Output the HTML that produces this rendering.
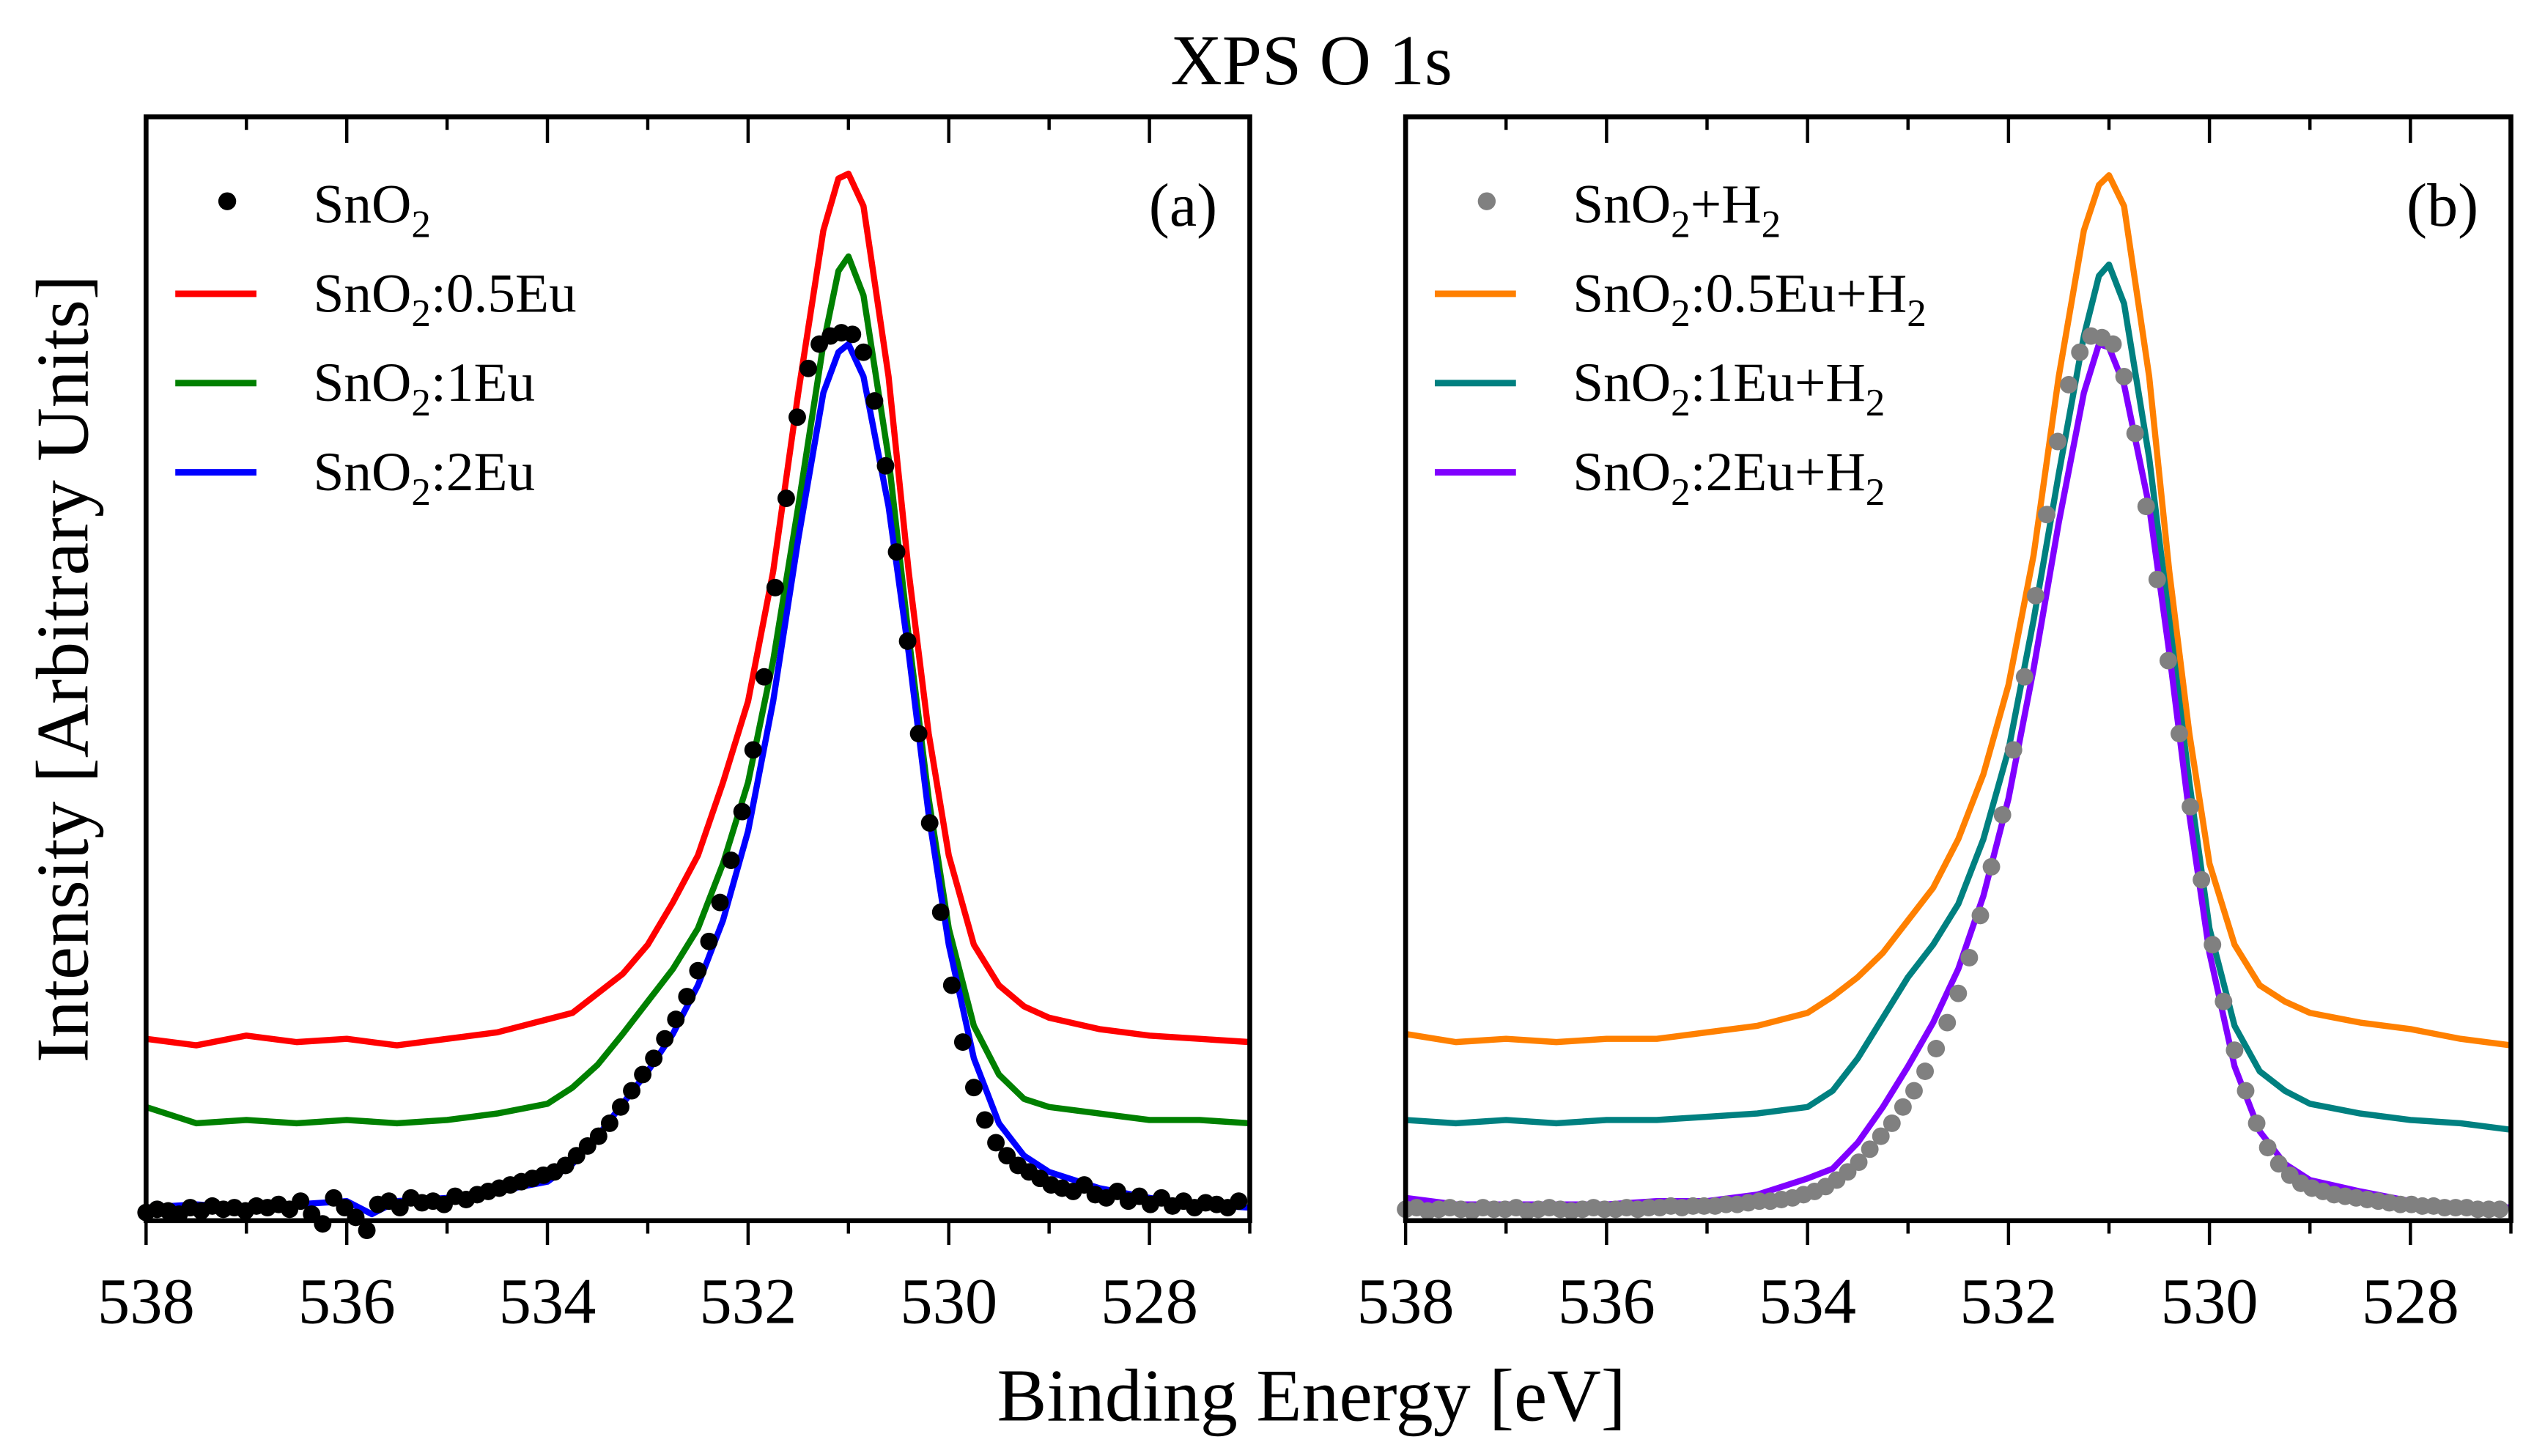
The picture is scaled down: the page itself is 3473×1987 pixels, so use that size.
<!DOCTYPE html>
<html><head><meta charset="utf-8"><style>
html,body{margin:0;padding:0;background:#fff;}
svg{display:block;font-family:"Liberation Serif",serif;}
</style></head><body>
<svg id="chart" width="3473" height="1987" viewBox="0 0 1568 897" preserveAspectRatio="none" xmlns="http://www.w3.org/2000/svg">
<text x="808" y="52" font-size="44" text-anchor="middle">XPS O 1s</text>
<text x="808" y="875" font-size="46" text-anchor="middle">Binding Energy [eV]</text>
<text transform="translate(54,412) rotate(-90)" font-size="46" text-anchor="middle">Intensity [Arbitrary Units]</text>
<g id="panelA"></g>
<g id="panelB"></g>
</svg>
<script>
const xTicks = [538, 536, 534, 532, 530, 528];
const xMinorTicks = [537, 535, 533, 531, 529, 527];

const energyLinesA = [538,537.5,537,536.5,536,535.5,535,534.5,534,533.75,533.5,533.25,533,532.75,532.5,532.25,532,531.75,531.5,531.25,531.1,531,530.85,530.6,530.4,530.2,530,529.75,529.5,529.25,529,528.5,528,527.5,527];
const redA = [112,108,114,110,112,108,112,116,124,128,140,152,170,196,225,270,320,400,510,610,642,645,625,520,400,300,225,170,145,132,125,118,114,112,110];
const greenA = [70,60,62,60,62,60,62,66,72,82,96,115,135,155,180,220,270,345,440,540,585,594,570,470,360,260,180,120,90,75,70,66,62,62,60];
const energyBlueA = [538,537.5,537,536.5,536,535.75,535.5,535,534.5,534,533.75,533.5,533.25,533,532.75,532.5,532.25,532,531.75,531.5,531.25,531.1,531,530.85,530.6,530.4,530.2,530,529.75,529.5,529.25,529,528.5,528,527.5,527];
const blueA = [8,10,8,10,12,4,12,14,18,24,35,52,72,92,115,145,185,240,320,420,510,535,540,520,440,350,250,170,100,60,40,30,20,14,10,8];
const blackDots = [5,7,6,4,8,6,9,7,8,6,9,8,10,7,12,4,-2,14,8,2,-6,10,12,8,14,11,12,10,15,
 13,16,18,20,22,24,26,28,30,
 34,40,46,52,60,70,80,90,100,
 112,124,138,154,172,196,222,252,290,
 335,390,445,495,525,540,545,547,546,
 535,505,465,412,357,300,245,190,145,
 110,82,62,48,40,34,30,26,22,
 20,18,22,16,14,18,12,15,10,14,9,12,8,11,10,8,12];

const energyLinesB = [538,537.5,537,536.5,536,535.5,535,534.5,534,533.75,533.5,533.25,533,532.75,532.5,532.25,532,531.75,531.5,531.25,531.1,531,530.85,530.6,530.4,530.2,530,529.75,529.5,529.25,529,528.5,528,527.5,527];
const orangeB = [115,110,112,110,112,112,116,120,128,138,150,165,185,205,235,275,330,410,520,610,638,644,625,520,400,300,220,170,145,135,128,122,118,112,108];
const tealB = [62,60,62,60,62,62,64,66,70,80,100,125,150,170,195,235,290,370,460,545,582,589,565,470,370,270,180,120,92,80,72,66,62,60,56];
const purpleB = [14,10,10,10,10,12,12,16,26,32,48,70,95,122,155,200,260,340,430,510,540,538,515,440,350,250,165,95,55,35,25,18,12,10,8];
const grayDots = [7,8,6,7,8,7,6,8,7,7,8,6,7,8,7,6,7,8,7,7,8,7,8,8,9,8,9,9,
 9,10,10,11,12,12,13,14,16,
 18,21,25,30,36,44,52,60,70,
 80,92,106,122,140,162,188,218,250,
 290,335,385,435,480,515,535,545,544,
 540,520,485,440,395,345,300,255,210,
 170,135,105,80,60,45,35,28,23,
 20,18,16,15,14,13,12,11,10,10,9,9,8,8,8,7,7,7];
const dotEnergyStart = 538, dotEnergyStep = 0.11;

const NS = "http://www.w3.org/2000/svg";
function mk(tag, attrs, parent){ const e=document.createElementNS(NS,tag); for(const k in attrs) e.setAttribute(k,attrs[k]); parent.appendChild(e); return e; }

function drawPanel(g, left, right, lines, dots, dotColor, legend, label){
  const top=72, bottom=752;
  const xS = e => left + (538 - e) * (right-left)/11;
  const yS = v => bottom - v * (bottom-top)/680;
  lines.forEach(s=>{
    const pts = s.e.map((e,i)=>xS(e).toFixed(2)+","+yS(s.v[i]).toFixed(2)).join(" ");
    const p = mk("polyline",{points:pts,fill:"none",stroke:s.color,"stroke-width":3.8,"stroke-linejoin":"round"},g);
    
    
  });
  dots.forEach((v,i)=>{
    const c = mk("circle",{cx:xS(dotEnergyStart - i*dotEnergyStep),cy:yS(v),r:5.4,fill:dotColor},g);
    
    
  });
  const f = mk("rect",{x:left,y:top,width:right-left,height:bottom-top,fill:"none",stroke:"#000","stroke-width":3},g);
  
  
  xTicks.forEach(t=>{
    const x=xS(t);
    const a = mk("line",{x1:x,y1:bottom,x2:x,y2:bottom+15,stroke:"#000","stroke-width":2},g);
    
    
    const b = mk("line",{x1:x,y1:top,x2:x,y2:top+16,stroke:"#000","stroke-width":2},g);
    
    
    const tx = mk("text",{x:x,y:815,"font-size":40,"text-anchor":"middle"},g);
    tx.textContent = t;
    
    
  });
  xMinorTicks.forEach(t=>{
    const x=xS(t);
    const a = mk("line",{x1:x,y1:bottom,x2:x,y2:bottom+8,stroke:"#000","stroke-width":2},g);
    
    
    const b = mk("line",{x1:x,y1:top,x2:x,y2:top+8,stroke:"#000","stroke-width":2},g);
    
    
  });
  legend.forEach((L,i)=>{
    const y = 124 + i*55;
    if(L.dot){
      const c = mk("circle",{cx:left+50,cy:y,r:5.5,fill:L.color},g);
      
      
    } else {
      const l = mk("line",{x1:left+18,y1:y+2,x2:left+68,y2:y+2,stroke:L.color,"stroke-width":4},g);
      
      
    }
    const t = mk("text",{x:left+103,y:y+13,"font-size":34},g);
    t.innerHTML = L.html;
    
    
  });
  const pl = mk("text",{x:right-20,y:139,"font-size":38,"text-anchor":"end"},g);
  pl.textContent = label;
  
  
}
const sub = '<tspan dy="9" font-size="24">2</tspan><tspan dy="-9">';
const sub2 = '<tspan dy="9" font-size="24">2</tspan>';
drawPanel(document.getElementById("panelA"), 90, 770,
  [{e:energyLinesA,v:redA,color:"#ff0000",name:"series-sno2-0.5eu"},
   {e:energyLinesA,v:greenA,color:"#008000",name:"series-sno2-1eu"},
   {e:energyBlueA,v:blueA,color:"#0000ff",name:"series-sno2-2eu"}],
  blackDots, "#000",
  [{dot:true,color:"#000",html:'SnO'+sub2},
   {color:"#ff0000",html:'SnO'+sub+':0.5Eu</tspan>'},
   {color:"#008000",html:'SnO'+sub+':1Eu</tspan>'},
   {color:"#0000ff",html:'SnO'+sub+':2Eu</tspan>'}], "(a)");
drawPanel(document.getElementById("panelB"), 866, 1547,
  [{e:energyLinesB,v:orangeB,color:"#ff8000",name:"series-sno2-0.5eu-h2"},
   {e:energyLinesB,v:tealB,color:"#008080",name:"series-sno2-1eu-h2"},
   {e:energyLinesB,v:purpleB,color:"#8000ff",name:"series-sno2-2eu-h2"}],
  grayDots, "#808080",
  [{dot:true,color:"#808080",html:'SnO'+sub+'+H</tspan>'+sub2},
   {color:"#ff8000",html:'SnO'+sub+':0.5Eu+H</tspan>'+sub2},
   {color:"#008080",html:'SnO'+sub+':1Eu+H</tspan>'+sub2},
   {color:"#8000ff",html:'SnO'+sub+':2Eu+H</tspan>'+sub2}], "(b)");
</script>
</body></html>
